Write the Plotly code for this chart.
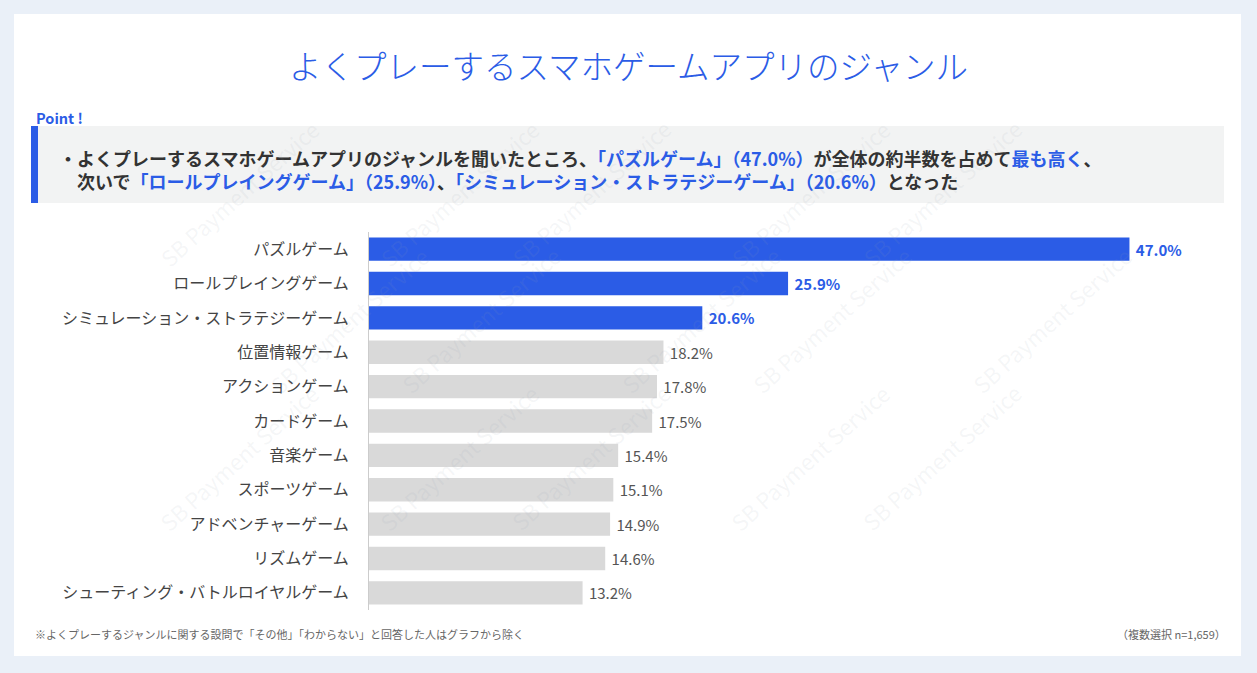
import plotly.graph_objects as go

# data
genres = ["パズルゲーム", "ロールプレイングゲーム", "シミュレーション・ストラテジーゲーム",
          "位置情報ゲーム", "アクションゲーム", "カードゲーム", "音楽ゲーム",
          "スポーツゲーム", "アドベンチャーゲーム", "リズムゲーム",
          "シューティング・バトルロイヤルゲーム"]
shares = [47.0, 25.9, 20.6, 18.2, 17.8, 17.5, 15.4, 15.1, 14.9, 14.6, 13.2]
n_highlight = 3

W, H = 1257, 673
BLUE = "#2b5ce6"
GRAY_BAR = "#d9d9d9"
FONT = "Noto Sans CJK JP"


def px(x):
    return x / W


def py(y):
    return 1 - y / H


bar_colors = [BLUE if i < n_highlight else GRAY_BAR for i in range(len(shares))]
text_colors = [BLUE if i < n_highlight else "#555555" for i in range(len(shares))]
labels = [(" <b>%.1f%%</b>" if i < n_highlight else " %.1f%%") % v for i, v in enumerate(shares)]

fig = go.Figure()
fig.add_trace(go.Bar(
    x=shares, y=genres, orientation="h",
    marker=dict(color=bar_colors, line=dict(width=0)),
    text=labels, textposition="outside",
    textfont=dict(family=FONT, size=15, color=text_colors),
    cliponaxis=False, hoverinfo="skip",
))

# card + point box
shapes = [
    dict(type="rect", xref="paper", yref="paper", x0=px(14), x1=px(1241), y0=py(656), y1=py(14),
         fillcolor="white", line=dict(width=0), layer="below"),
    dict(type="rect", xref="paper", yref="paper", x0=px(31), x1=px(1224), y0=py(203), y1=py(126),
         fillcolor="#f2f3f3", line=dict(width=0), layer="below"),
    dict(type="rect", xref="paper", yref="paper", x0=px(31), x1=px(38), y0=py(203), y1=py(126),
         fillcolor=BLUE, line=dict(width=0), layer="below"),
]


def blue(s):
    return '<span style="color:%s">%s</span>' % (BLUE, s)


line1 = ("<b>・よくプレーするスマホゲームアプリのジャンルを聞いたところ、" + blue("「パズルゲーム」（47.0%）")
         + "が全体の約半数を占めて" + blue("最も高く") + "、</b>")
line2 = ("<b>　次いで" + blue("「ロールプレイングゲーム」（25.9%）") + "、"
         + blue("「シミュレーション・ストラテジーゲーム」（20.6%）") + "となった</b>")

annotations = [
    dict(text="よくプレーするスマホゲームアプリのジャンル", x=px(628), y=py(64),
         font=dict(family=FONT, size=32.5, color=BLUE, weight=300)),
    dict(text="<b>Point !</b>", x=px(34), y=py(117), xanchor="left",
         font=dict(family=FONT, size=14.5, color=BLUE)),
    dict(text=line1 + "<br>" + line2, x=px(57), y=py(169), xanchor="left", align="left",
         font=dict(family=FONT, size=18, color="#333333")),
    dict(text="※よくプレーするジャンルに関する設問で「その他」「わからない」と回答した人はグラフから除く",
         x=px(33), y=py(634), xanchor="left", font=dict(family=FONT, size=11, color="#666666")),
    dict(text="（複数選択 n=1,659）", x=px(1228), y=py(634), xanchor="right",
         font=dict(family=FONT, size=11, color="#666666")),
]
for a in annotations:
    a.update(xref="paper", yref="paper", showarrow=False)
    a.setdefault("xanchor", "center")
    a.setdefault("yanchor", "middle")

# faint watermark, kept inside the page
for row, yy in enumerate([110, 320, 540]):
    for col in range(5):
        xx = 150 + col * 220 + (110 if row % 2 else 0)
        annotations.append(dict(
            text="SB Payment Service", x=px(xx), y=py(yy), xref="paper", yref="paper",
            showarrow=False, textangle=-42,
            font=dict(family=FONT, size=22, color="rgba(150,160,175,0.10)")))

fig.update_layout(
    width=W, height=H,
    margin=dict(l=0, r=0, t=0, b=0),
    paper_bgcolor="#eaf0f8",
    plot_bgcolor="white",
    showlegend=False,
    bargap=0.32,
    shapes=shapes,
    annotations=annotations,
    font=dict(family=FONT),
    xaxis=dict(domain=[px(369), px(1178)], range=[0, 50], visible=False, fixedrange=True),
    yaxis=dict(domain=[py(610), py(232)], autorange="reversed", showline=True,
               linecolor="#cccccc", linewidth=1, showgrid=False, ticks="",
               ticklabelstandoff=16, tickfont=dict(family=FONT, size=16, color="#444444"),
               fixedrange=True),
)

# page body has an 8px default margin; drop it so the figure sits at 0,0
fig.write_html("out.html", config={"displayModeBar": False},
               post_script="document.body.style.margin='0';")
